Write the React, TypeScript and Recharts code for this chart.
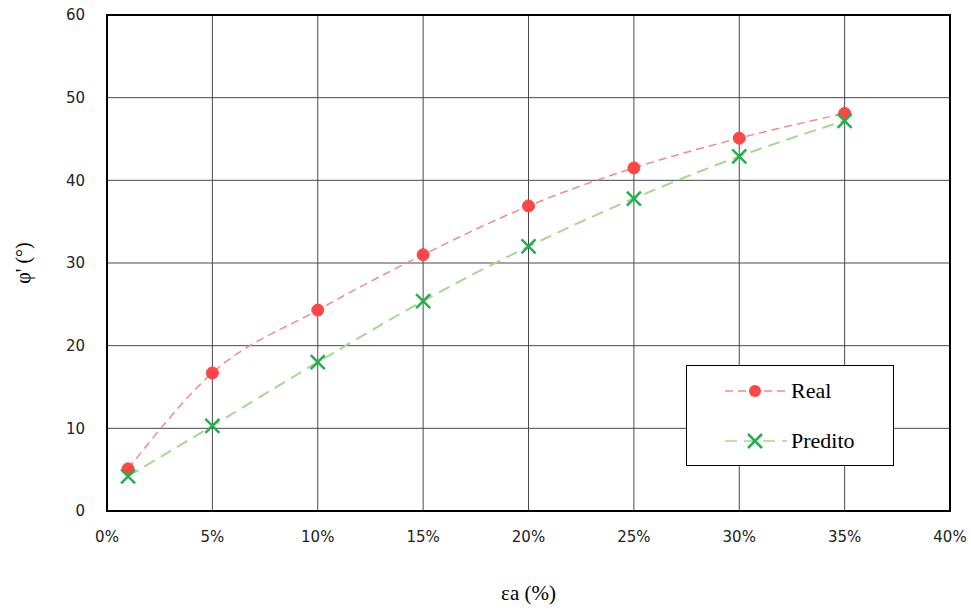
import React from "react";
import {
  LineChart,
  Line,
  XAxis,
  YAxis,
  CartesianGrid,
  ReferenceArea,
} from "recharts";

const strain = [0.01, 0.05, 0.1, 0.15, 0.2, 0.25, 0.3, 0.35];
const real = [5.1, 16.7, 24.3, 31.0, 36.9, 41.5, 45.1, 48.1];
const predito = [4.2, 10.3, 18.0, 25.4, 32.0, 37.8, 42.9, 47.2];
const xTicks = [0, 0.05, 0.1, 0.15, 0.2, 0.25, 0.3, 0.35, 0.4];
const yTicks = [0, 10, 20, 30, 40, 50, 60];

const data = strain.map((x, i) => ({ x, real: real[i], predito: predito[i] }));

const RED_LINE = "#f08c8c";
const RED_DOT = "#ff4646";
const GREEN_LINE = "#a8d890";
const GREEN_X = "#22b04e";

const tickFont = { fontFamily: "DejaVu Sans", fontSize: 15, fill: "#222" };

const RedDot = (props: any) => {
  const { cx, cy } = props;
  if (cx == null || cy == null) return null;
  return <circle cx={cx} cy={cy} r={6} fill={RED_DOT} stroke={RED_DOT} strokeWidth={1} />;
};

const GreenX = (props: any) => {
  const { cx, cy } = props;
  if (cx == null || cy == null) return null;
  const s = 7;
  return (
    <g stroke={GREEN_X} strokeWidth={2.5}>
      <line x1={cx - s} y1={cy - s} x2={cx + s} y2={cy + s} />
      <line x1={cx - s} y1={cy + s} x2={cx + s} y2={cy - s} />
    </g>
  );
};

const LegendBox = () => (
  <div
    style={{
      position: "absolute",
      left: 686,
      top: 365,
      width: 208,
      height: 101,
      border: "1px solid #000",
      background: "#fff",
      boxSizing: "border-box",
    }}
  >
    <svg width={206} height={99} style={{ position: "absolute", left: 0, top: 0 }}>
      <line x1={38} y1={25} x2={100} y2={25} stroke={RED_LINE} strokeWidth={1.5} strokeDasharray="8 5" />
      <circle cx={68} cy={25} r={6} fill={RED_DOT} />
      <text x={104} y={32} fontFamily="Liberation Serif" fontSize={22} fill="#000">Real</text>
      <line x1={38} y1={75} x2={100} y2={75} stroke={GREEN_LINE} strokeWidth={1.5} strokeDasharray="12 7" />
      <g stroke={GREEN_X} strokeWidth={2.5}>
        <line x1={61} y1={68} x2={75} y2={82} />
        <line x1={61} y1={82} x2={75} y2={68} />
      </g>
      <text x={104} y={82} fontFamily="Liberation Serif" fontSize={22} fill="#000">Predito</text>
    </svg>
  </div>
);

const YLabel = () => (
  <text
    x={30}
    y={263}
    transform="rotate(-90 30 263)"
    textAnchor="middle"
    fontFamily="Liberation Serif"
    fontSize={20}
    fill="#000"
  >
    {"\u03C6' (\u00B0)"}
  </text>
);

export default function App() {
  return (
    <div style={{ position: "absolute", left: 0, top: 0, width: 971, height: 610, background: "#fff" }}>
      <LineChart width={971} height={610} data={data} margin={{ top: 15, right: 21, bottom: 0, left: 47 }}>
        <CartesianGrid stroke="#4a4a4a" strokeWidth={1} fill="none" />
        <XAxis
          dataKey="x"
          type="number"
          domain={[0, 0.4]}
          ticks={xTicks}
          tickFormatter={(v: number) => `${Math.round(v * 100)}%`}
          tick={tickFont}
          tickLine={false}
          axisLine={false}
          tickSize={0}
          tickMargin={20}
          height={99}
          interval={0}
          label={{
            value: "\u03B5a (%)",
            position: "insideBottom",
            offset: 10,
            style: { fontFamily: "Liberation Serif", fontSize: 21, fill: "#000" },
          }}
        />
        <YAxis
          type="number"
          domain={[0, 60]}
          ticks={yTicks}
          tick={tickFont}
          tickLine={false}
          axisLine={false}
          tickSize={0}
          tickMargin={22}
          width={60}
          interval={0}
          label={<YLabel />}
        />
        <ReferenceArea x1={0} x2={0.4} y1={0} y2={60} fill="none" stroke="#000" strokeWidth={2} ifOverflow="visible" />
        <Line
          type="monotone"
          dataKey="real"
          stroke={RED_LINE}
          strokeWidth={1.5}
          strokeDasharray="8 5"
          dot={<RedDot />}
          activeDot={false}
          isAnimationActive={false}
        />
        <Line
          type="monotone"
          dataKey="predito"
          stroke={GREEN_LINE}
          strokeWidth={2}
          strokeDasharray="12 7"
          dot={<GreenX />}
          activeDot={false}
          isAnimationActive={false}
        />
      </LineChart>
      <LegendBox />
    </div>
  );
}
